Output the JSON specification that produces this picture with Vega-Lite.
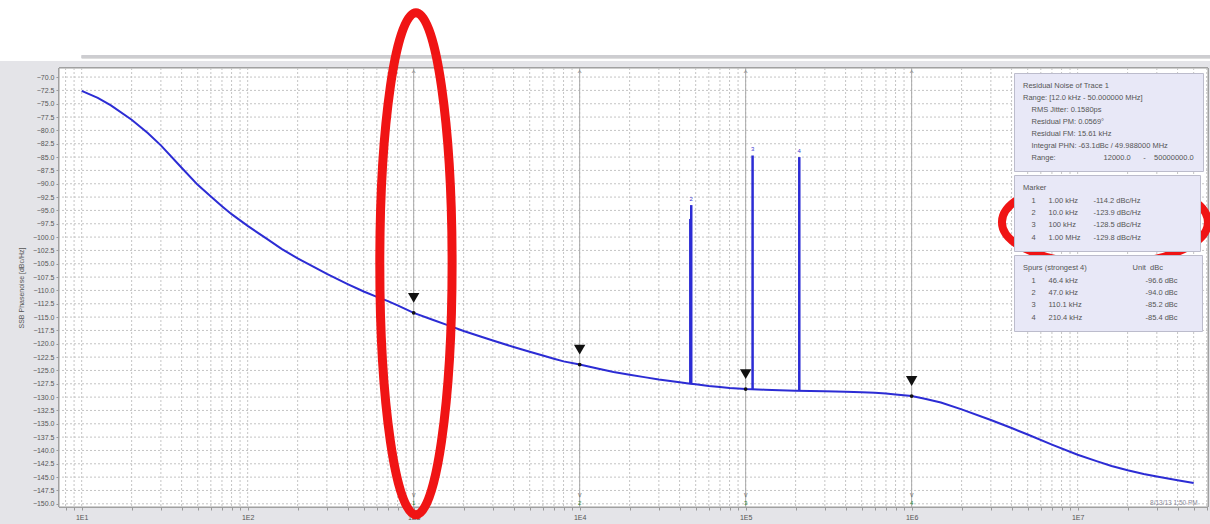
{
  "$schema": "https://vega.github.io/schema/vega-lite/v6.json",
  "width": 1149,
  "height": 439,
  "autosize": {"type": "none"},
  "padding": {"left": 59, "top": 68, "right": 2, "bottom": 17},
  "background": "#e4e4e8",
  "datasets": {
    "curve": [
      {"f": 10, "db": -72.6}, {"f": 12.5, "db": -73.9}, {"f": 15, "db": -75.3}, {"f": 20, "db": -78.0},
      {"f": 25, "db": -80.5}, {"f": 30, "db": -82.8}, {"f": 40, "db": -87.0}, {"f": 50, "db": -90.2},
      {"f": 60, "db": -92.4}, {"f": 70, "db": -94.2}, {"f": 80, "db": -95.7}, {"f": 100, "db": -97.9},
      {"f": 130, "db": -100.3}, {"f": 160, "db": -102.2}, {"f": 200, "db": -104.0}, {"f": 250, "db": -105.6},
      {"f": 300, "db": -106.9}, {"f": 400, "db": -108.8}, {"f": 500, "db": -110.2}, {"f": 600, "db": -111.2},
      {"f": 700, "db": -112.0}, {"f": 800, "db": -112.8}, {"f": 1000, "db": -114.2}, {"f": 1300, "db": -115.5},
      {"f": 1600, "db": -116.5}, {"f": 2000, "db": -117.6}, {"f": 2500, "db": -118.6}, {"f": 3000, "db": -119.4},
      {"f": 4000, "db": -120.6}, {"f": 5000, "db": -121.5}, {"f": 6000, "db": -122.2}, {"f": 7000, "db": -122.8},
      {"f": 8000, "db": -123.3}, {"f": 10000, "db": -123.9}, {"f": 13000, "db": -124.7}, {"f": 16000, "db": -125.3},
      {"f": 20000, "db": -125.8}, {"f": 25000, "db": -126.3}, {"f": 30000, "db": -126.7}, {"f": 40000, "db": -127.2},
      {"f": 46400, "db": -127.5}, {"f": 50000, "db": -127.6}, {"f": 60000, "db": -127.9}, {"f": 70000, "db": -128.1},
      {"f": 80000, "db": -128.3}, {"f": 100000, "db": -128.5}, {"f": 130000, "db": -128.6}, {"f": 160000, "db": -128.7},
      {"f": 200000, "db": -128.8}, {"f": 300000, "db": -128.9}, {"f": 400000, "db": -129.0}, {"f": 500000, "db": -129.1},
      {"f": 600000, "db": -129.2}, {"f": 700000, "db": -129.3}, {"f": 800000, "db": -129.5}, {"f": 1000000, "db": -129.8},
      {"f": 1200000, "db": -130.3}, {"f": 1500000, "db": -131.0}, {"f": 2000000, "db": -132.3}, {"f": 3000000, "db": -134.3},
      {"f": 4000000, "db": -135.8}, {"f": 5000000, "db": -137.0}, {"f": 7000000, "db": -138.9}, {"f": 10000000, "db": -140.8},
      {"f": 13000000, "db": -142.0}, {"f": 16000000, "db": -142.9}, {"f": 20000000, "db": -143.7}, {"f": 25000000, "db": -144.4},
      {"f": 30000000, "db": -144.9}, {"f": 40000000, "db": -145.6}, {"f": 50000000, "db": -146.1}
    ],
    "xgrid": [
      {"v": 8}, {"v": 9}, {"v": 10}, {"v": 20}, {"v": 30}, {"v": 40}, {"v": 50}, {"v": 60}, {"v": 70}, {"v": 80}, {"v": 90},
      {"v": 100}, {"v": 200}, {"v": 300}, {"v": 400}, {"v": 500}, {"v": 600}, {"v": 700}, {"v": 800}, {"v": 900},
      {"v": 1000}, {"v": 2000}, {"v": 3000}, {"v": 4000}, {"v": 5000}, {"v": 6000}, {"v": 7000}, {"v": 8000}, {"v": 9000},
      {"v": 10000}, {"v": 20000}, {"v": 30000}, {"v": 40000}, {"v": 50000}, {"v": 60000}, {"v": 70000}, {"v": 80000}, {"v": 90000},
      {"v": 100000}, {"v": 200000}, {"v": 300000}, {"v": 400000}, {"v": 500000}, {"v": 600000}, {"v": 700000}, {"v": 800000}, {"v": 900000},
      {"v": 1000000}, {"v": 2000000}, {"v": 3000000}, {"v": 4000000}, {"v": 5000000}, {"v": 6000000}, {"v": 7000000}, {"v": 8000000}, {"v": 9000000},
      {"v": 10000000}, {"v": 20000000}, {"v": 30000000}, {"v": 40000000}, {"v": 50000000}, {"v": 60000000}
    ],
    "ygrid": [
      {"v": -150}, {"v": -147.5}, {"v": -145}, {"v": -142.5}, {"v": -140}, {"v": -137.5}, {"v": -135}, {"v": -132.5},
      {"v": -130}, {"v": -127.5}, {"v": -125}, {"v": -122.5}, {"v": -120}, {"v": -117.5}, {"v": -115}, {"v": -112.5},
      {"v": -110}, {"v": -107.5}, {"v": -105}, {"v": -102.5}, {"v": -100}, {"v": -97.5}, {"v": -95}, {"v": -92.5},
      {"v": -90}, {"v": -87.5}, {"v": -85}, {"v": -82.5}, {"v": -80}, {"v": -77.5}, {"v": -75}, {"v": -72.5}, {"v": -70}
    ],
    "markers": [
      {"m": "1", "f": 1000, "db": -114.2},
      {"m": "2", "f": 10000, "db": -123.9},
      {"m": "3", "f": 100000, "db": -128.5},
      {"m": "4", "f": 1000000, "db": -129.8}
    ],
    "spurs": [
      {"n": 1, "f": 46400, "top": -96.6, "base": -127.5},
      {"n": 2, "f": 47000, "top": -94.0, "base": -127.5},
      {"n": 3, "f": 110100, "top": -84.7, "base": -128.55},
      {"n": 4, "f": 210400, "top": -85.0, "base": -128.8}
    ],
    "panel1": [
      {"line": "RMS Jitter: 0.1580ps"},
      {"line": "Residual PM: 0.0569°"},
      {"line": "Residual FM: 15.61 kHz"},
      {"line": "Integral PHN: -63.1dBc / 49.988000 MHz"},
      {"line": "Range:\u00a0\u00a0\u00a0\u00a0\u00a0\u00a0\u00a0\u00a0\u00a0\u00a0\u00a0\u00a0\u00a0\u00a0\u00a0\u00a0\u00a0\u00a0\u00a0\u00a0\u00a0\u00a0\u00a012000.0\u00a0\u00a0\u00a0\u00a0\u00a0\u00a0-\u00a0\u00a0\u00a0\u00a050000000.0"}
    ],
    "panel2": [
      {"cell": "1"}, {"cell": "2"}, {"cell": "3"}, {"cell": "4"},
      {"cell": "1.00 kHz"}, {"cell": "10.0 kHz"}, {"cell": "100 kHz"}, {"cell": "1.00 MHz"},
      {"cell": "-114.2 dBc/Hz\u00a0\u00a0\u00a0\u00a0\u00a0\u00a0\u00a0\u00a0\u00a0\u00a0\u00a0\u00a0\u00a0\u00a0\u00a0\u00a0\u00a0\u00a0\u00a0\u00a0\u00a0\u00a0\u00a0\u00a0\u200b"},
      {"cell": "-123.9 dBc/Hz"}, {"cell": "-128.5 dBc/Hz"}, {"cell": "-129.8 dBc/Hz"}
    ],
    "panel3": [
      {"cell": "1"}, {"cell": "2"}, {"cell": "3"}, {"cell": "4"},
      {"cell": "46.4 kHz"}, {"cell": "47.0 kHz"}, {"cell": "110.1 kHz"}, {"cell": "210.4 kHz"},
      {"cell": "\u200b\u00a0\u00a0\u00a0\u00a0\u00a0\u00a0\u00a0\u00a0\u00a0\u00a0\u00a0\u00a0\u00a0\u00a0\u00a0\u00a0\u00a0\u00a0\u00a0\u00a0\u00a0\u00a0\u00a0\u00a0-96.6 dBc\u00a0\u00a0\u00a0\u00a0\u00a0\u00a0\u00a0\u200b"},
      {"cell": "\u200b\u00a0\u00a0\u00a0\u00a0\u00a0\u00a0\u00a0\u00a0\u00a0\u00a0\u00a0\u00a0\u00a0\u00a0\u00a0\u00a0\u00a0\u00a0\u00a0\u00a0\u00a0\u00a0\u00a0\u00a0-94.0 dBc"},
      {"cell": "\u200b\u00a0\u00a0\u00a0\u00a0\u00a0\u00a0\u00a0\u00a0\u00a0\u00a0\u00a0\u00a0\u00a0\u00a0\u00a0\u00a0\u00a0\u00a0\u00a0\u00a0\u00a0\u00a0\u00a0\u00a0-85.2 dBc"},
      {"cell": "\u200b\u00a0\u00a0\u00a0\u00a0\u00a0\u00a0\u00a0\u00a0\u00a0\u00a0\u00a0\u00a0\u00a0\u00a0\u00a0\u00a0\u00a0\u00a0\u00a0\u00a0\u00a0\u00a0\u00a0\u00a0-85.4 dBc"}
    ],
    "ellipse1": [{"f": 1032, "db": -105.0}],
    "ellipse2": [{"f": 14600000, "db": -97.2}],
    "stamp": [{"f": 27300000, "db": -149.9, "t": "8/13/13 1:50 PM"}]
  },
  "layer": [
    {
      "data": {"name": "markers"},
      "mark": {"type": "rect", "fill": "white", "stroke": "#9c9c9c", "strokeWidth": 1, "clip": false},
      "encoding": {
        "x": {"datum": 7.3, "type": "quantitative"},
        "x2": {"datum": 61000000},
        "y": {"datum": -150.6, "type": "quantitative"},
        "y2": {"datum": -68.3}
      }
    },
    {
      "data": {"name": "markers"},
      "mark": {"type": "rect", "color": "white", "clip": false},
      "encoding": {
        "x": {"datum": 1, "type": "quantitative"},
        "x2": {"datum": 1000000000},
        "y": {"datum": -67.0, "type": "quantitative"},
        "y2": {"datum": -40}
      }
    },
    {
      "data": {"name": "markers"},
      "mark": {"type": "rule", "color": "#cdcdd0", "strokeWidth": 3, "clip": false},
      "encoding": {
        "x": {"datum": 10, "type": "quantitative"},
        "x2": {"datum": 1000000000},
        "y": {"datum": -66.2, "type": "quantitative"}
      }
    },
    {
      "data": {"name": "xgrid"},
      "mark": {"type": "rule", "color": "#c4c4c4", "strokeWidth": 1, "strokeDash": [2, 2]},
      "encoding": {"x": {"field": "v", "type": "quantitative"}}
    },
    {
      "data": {"name": "ygrid"},
      "mark": {"type": "rule", "color": "#c4c4c4", "strokeWidth": 1, "strokeDash": [2, 2]},
      "encoding": {"y": {"field": "v", "type": "quantitative"}}
    },
    {
      "data": {"name": "markers"},
      "mark": {"type": "rule", "color": "#a9a9a9", "strokeWidth": 1},
      "encoding": {"x": {"field": "f", "type": "quantitative"}}
    },
    {
      "data": {"name": "markers"},
      "mark": {"type": "text", "text": "^", "fontSize": 8, "color": "#707070", "baseline": "middle"},
      "encoding": {"x": {"field": "f", "type": "quantitative"}, "y": {"datum": -69.3, "type": "quantitative"}}
    },
    {
      "data": {"name": "markers"},
      "mark": {"type": "text", "text": "v", "fontSize": 7, "color": "#707070", "baseline": "middle"},
      "encoding": {"x": {"field": "f", "type": "quantitative"}, "y": {"datum": -148.4, "type": "quantitative"}}
    },
    {
      "data": {"name": "markers"},
      "mark": {"type": "text", "fontSize": 6, "color": "#2e8b3a", "baseline": "middle"},
      "encoding": {"x": {"field": "f", "type": "quantitative"}, "y": {"datum": -149.9, "type": "quantitative"}, "text": {"field": "m"}}
    },
    {
      "data": {"name": "curve"},
      "mark": {"type": "line", "color": "#2c2cd4", "strokeWidth": 2},
      "encoding": {
        "x": {
          "field": "f", "type": "quantitative",
          "scale": {"type": "log", "domain": [7.3, 61000000], "nice": false},
          "axis": {
            "title": null,
            "grid": false,
            "values": [8, 9, 10, 20, 30, 40, 50, 60, 70, 80, 90, 100, 200, 300, 400, 500, 600, 700, 800, 900,
              1000, 2000, 3000, 4000, 5000, 6000, 7000, 8000, 9000, 10000, 20000, 30000, 40000, 50000, 60000, 70000, 80000, 90000,
              100000, 200000, 300000, 400000, 500000, 600000, 700000, 800000, 900000,
              1000000, 2000000, 3000000, 4000000, 5000000, 6000000, 7000000, 8000000, 9000000,
              10000000, 20000000, 30000000, 40000000, 50000000, 60000000],
            "labelExpr": "indexof([10,100,1000,10000,100000,1000000,10000000], datum.value) >= 0 ? '1E' + round(log(datum.value) / LN10) : ''",
            "labelPadding": 3
          }
        },
        "y": {
          "field": "db", "type": "quantitative",
          "scale": {"domain": [-150.6, -68.3], "nice": false, "zero": false},
          "axis": {
            "title": "SSB Phasenoise [dBc/Hz]",
            "grid": false,
            "values": [-150, -147.5, -145, -142.5, -140, -137.5, -135, -132.5, -130, -127.5, -125, -122.5, -120, -117.5, -115, -112.5, -110, -107.5, -105, -102.5, -100, -97.5, -95, -92.5, -90, -87.5, -85, -82.5, -80, -77.5, -75, -72.5, -70],
            "tickCount": 40,
            "format": ".1f",
            "labelOverlap": false,
            "labelPadding": 2,
            "titlePadding": 8
          }
        }
      }
    },
    {
      "data": {"name": "spurs"},
      "mark": {"type": "rule", "color": "#2c2cd4", "strokeWidth": 2.5},
      "encoding": {
        "x": {"field": "f", "type": "quantitative"},
        "y": {"field": "top", "type": "quantitative"},
        "y2": {"field": "base"}
      }
    },
    {
      "data": {"name": "spurs"},
      "transform": [{"filter": "datum.n > 1"}],
      "mark": {"type": "text", "color": "#3a3ad0", "fontSize": 6, "dy": -6, "baseline": "middle"},
      "encoding": {
        "x": {"field": "f", "type": "quantitative"},
        "y": {"field": "top", "type": "quantitative"},
        "text": {"field": "n"}
      }
    },
    {
      "data": {"name": "markers"},
      "mark": {"type": "point", "shape": "circle", "filled": true, "color": "#111111", "size": 14, "opacity": 1},
      "encoding": {"x": {"field": "f", "type": "quantitative"}, "y": {"field": "db", "type": "quantitative"}}
    },
    {
      "data": {"name": "markers"},
      "mark": {"type": "point", "shape": "triangle-down", "filled": true, "color": "#111111", "size": 130, "yOffset": -15, "opacity": 1},
      "encoding": {"x": {"field": "f", "type": "quantitative"}, "y": {"field": "db", "type": "quantitative"}}
    },
    {
      "data": {"name": "stamp"},
      "mark": {"type": "text", "fontSize": 6.5, "color": "#8a8a9a", "align": "left", "baseline": "middle", "clip": true},
      "encoding": {"x": {"field": "f", "type": "quantitative"}, "y": {"field": "db", "type": "quantitative"}, "text": {"field": "t"}}
    },
    {
      "data": {"name": "panel1"},
      "mark": {"type": "point", "opacity": 0},
      "encoding": {
        "color": {
          "field": "line", "type": "nominal", "sort": null,
          "legend": {
            "title": ["Residual Noise of Trace 1", "Range: [12.0 kHz - 50.000000 MHz]"],
            "titleLineHeight": 11.5,
            "columns": 1,
            "labelOffset": 1,
            "rowPadding": 3
          }
        }
      }
    },
    {
      "data": {"name": "panel2"},
      "mark": {"type": "point", "opacity": 0},
      "encoding": {
        "shape": {
          "field": "cell", "type": "nominal", "sort": null,
          "legend": {
            "title": "Marker",
            "columns": 3,
            "columnPadding": 4,
            "labelOffset": 1,
            "rowPadding": 3.5,
            "encode": {"labels": {"update": {
              "fill": {"signal": "indexof(['1','2','3','4'], datum.label) >= 0 ? '#2e8b3a' : '#555555'"}
            }}}
          }
        }
      }
    },
    {
      "data": {"name": "panel3"},
      "mark": {"type": "point", "opacity": 0},
      "encoding": {
        "strokeDash": {
          "field": "cell", "type": "nominal", "sort": null,
          "legend": {
            "title": "Spurs (strongest 4)\u00a0\u00a0\u00a0\u00a0\u00a0\u00a0\u00a0\u00a0\u00a0\u00a0\u00a0\u00a0\u00a0\u00a0\u00a0\u00a0\u00a0\u00a0\u00a0\u00a0\u00a0\u00a0Unit\u00a0\u00a0dBc",
            "columns": 3,
            "columnPadding": 4,
            "labelOffset": 1,
            "rowPadding": 3.5,
            "encode": {"labels": {"update": {
              "fill": {"signal": "indexof(['1','2','3','4'], datum.label) >= 0 ? '#2a2ad0' : '#555555'"}
            }}}
          }
        }
      }
    },
    {
      "data": {"name": "ellipse1"},
      "mark": {"type": "point", "shape": "M0,-1A0.144,1,0,1,1,0,1A0.144,1,0,1,1,0,-1Z", "size": 252004, "filled": false, "stroke": "#f01414", "strokeWidth": 9, "opacity": 1, "clip": false},
      "encoding": {"x": {"field": "f", "type": "quantitative"}, "y": {"field": "db", "type": "quantitative"}}
    },
    {
      "data": {"name": "ellipse2"},
      "mark": {"type": "point", "shape": "M-1,0A1,0.408,0,1,1,1,0A1,0.408,0,1,1,-1,0Z", "size": 42436, "filled": false, "stroke": "#f01414", "strokeWidth": 8, "opacity": 1, "clip": false},
      "encoding": {"x": {"field": "f", "type": "quantitative"}, "y": {"field": "db", "type": "quantitative"}}
    }
  ],
  "config": {
    "font": "Liberation Sans",
    "view": {"stroke": null},
    "axis": {
      "labelFont": "Liberation Sans",
      "labelFontSize": 7,
      "labelColor": "#555555",
      "labelOverlap": false,
      "labelSeparation": 0,
      "titleFont": "Liberation Sans",
      "titleFontSize": 7,
      "titleFontWeight": "normal",
      "titleColor": "#555555",
      "domain": false,
      "grid": false,
      "tickColor": "#999999",
      "tickSize": 3
    },
    "legend": {
      "orient": "top-right",
      "offset": 5,
      "padding": 9,
      "fillColor": "#e8e8f7",
      "strokeColor": "#bcbccc",
      "labelFont": "Liberation Sans",
      "labelFontSize": 7.5,
      "labelColor": "#555555",
      "labelLimit": 400,
      "titleFont": "Liberation Sans",
      "titleFontSize": 7.5,
      "titleFontWeight": "normal",
      "titleColor": "#555555",
      "titleLimit": 400,
      "titlePadding": 5,
      "symbolSize": 0,
      "symbolOpacity": 0,
      "symbolStrokeWidth": 0,
      "rowPadding": 2.5,
      "layout": {"top-right": {"direction": "vertical", "margin": 4, "anchor": "start"}}
    }
  }
}
